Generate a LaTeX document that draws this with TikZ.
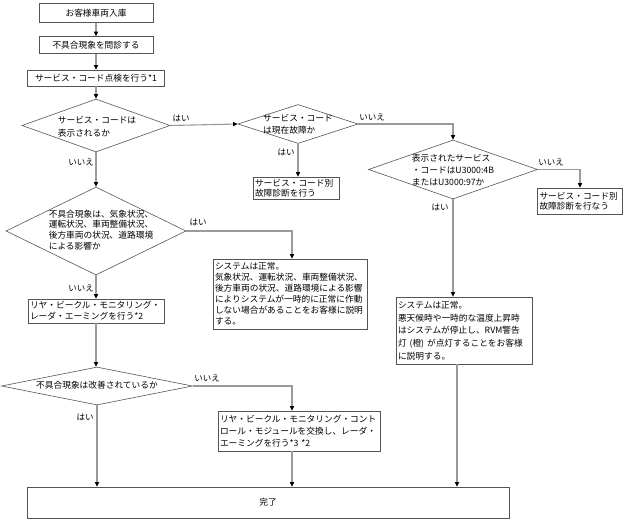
\documentclass[tikz,border=0pt]{standalone}
\usepackage{fontspec}
\setmainfont{Noto Sans CJK JP}
\usetikzlibrary{shapes.geometric,arrows.meta}
\definecolor{linegray}{HTML}{9A9A9A}
\definecolor{boxgray}{HTML}{555555}
\begin{document}
\begin{tikzpicture}[x=1pt,y=-1pt,
  box/.style={draw=boxgray,line width=0.6pt,inner xsep=2pt,inner ysep=0pt,align=left,fill=white},
  dia/.style={shape=diamond,draw=boxgray,line width=0.6pt,inner sep=0pt},
  txt/.style={font=\fontsize{8.7}{#1}\selectfont},
  dtext/.style={inner sep=0pt,align=left},
  lbl/.style={font=\fontsize{8.5}{10}\selectfont,inner sep=0pt},
  conn/.style={draw=linegray,line width=1.1pt,-{Triangle[width=4pt,length=4.5pt,color=black]}},
]
\useasboundingbox (0,0) rectangle (626,522);

% boxes
\node[box,txt=11,text width=110pt,minimum height=19pt,align=center] (b1) at (96,13) {お客様車両入庫};
\node[box,txt=11,text width=110pt,minimum height=17pt,align=center] (b2) at (96,45) {不具合現象を問診する};
\node[box,txt=11,text width=133pt,minimum height=16pt,align=center] (b3) at (96,78) {サービス・コード点検を行う*1};
\node[box,txt=10,text width=82pt,minimum height=22pt] (b4) at (296,188) {サービス・コード別\\故障診断を行う};
\node[box,txt=10,text width=81pt,minimum height=26pt] (b5) at (580,201) {サービス・コード別\\故障診断を行なう};
\node[box,txt=12.7,text width=132pt,minimum height=67pt] (b6) at (464,330.5) {システムは正常。\\悪天候時や一時的な温度上昇時\\はシステムが停止し、RVM警告\\灯 (橙) が点灯することをお客様\\に説明する。};
\node[box,txt=11,text width=150pt,minimum height=70pt] (b7) at (290,294) {システムは正常。\\気象状況、運転状況、車両整備状況、\\後方車両の状況、道路環境による影響\\によりシステムが一時的に正常に作動\\しない場合があることをお客様に説明\\する。};
\node[box,txt=11,text width=132pt,minimum height=24pt] (b8) at (96,311) {リヤ・ビークル・モニタリング・\\レーダ・エーミングを行う*2};
\node[box,txt=12,text width=158pt,minimum height=40pt] (b9) at (299,431) {リヤ・ビークル・モニタリング・コント\\ロール・モジュールを交換し、レーダ・\\エーミングを行う*3 *2};
\node[box,txt=11,text width=478pt,minimum height=31pt,align=center] (b10) at (268,502.5) {完了};

% diamonds
\node[dia,minimum width=148pt,minimum height=53pt] (d1) at (96,125.5) {};
\node[dtext,txt=13.3] (d1t) at (97,127) {サービス・コードは\\表示されるか};
\node[dia,minimum width=120pt,minimum height=39pt] (d2) at (298,124) {};
\node[dtext,txt=12] (d2t) at (298,124) {サービス・コード\\は現在故障か};
\node[dia,minimum width=169pt,minimum height=59pt] (d3) at (453,169.5) {};
\node[dtext,txt=12] (d3t) at (453,170) {表示されたサービス\\・コードはU3000:4B\\またはU3000:97か};
\node[dia,minimum width=180pt,minimum height=88pt] (d4) at (96,231) {};
\node[dtext,txt=10.7] (d4t) at (101,230) {不具合現象は、気象状況、\\運転状況、車両整備状況、\\後方車両の状況、道路環境\\による影響か};
\node[dia,minimum width=191pt,minimum height=38pt] (d5) at (97,386) {};
\node[dtext,txt=11] (d5t) at (97,385) {不具合現象は改善されているか};

% connectors
\draw[conn] (b1) -- (b2);
\draw[conn] (b2) -- (b3);
\draw[conn] (b3) -- (d1.north);
\draw[conn] (d1.east) -- (d2.west);
\draw[conn] (d2.south) -- (d2.south |- b4.north);
\draw[conn] (d2.east) -| (d3.north);
\draw[conn] (d3.east) -| (b5.north);
\draw[conn] (d3.south) -- (d3.south |- b6.north);
\draw[conn] ([xshift=-7pt]b6.south) -- ([xshift=-7pt]b6.south |- b10.north);
\draw[conn] (d1.south) -- (d4.north);
\draw[conn] (d4.east) -| ([xshift=2pt]b7.north);
\draw[conn] (d4.south) -- (b8.north);
\draw[conn] (b8.south) -- (b8.south |- d5.north);
\draw[conn] (d5.east) -| ([xshift=-7pt]b9.north);
\draw[conn] (d5.south) -- (d5.south |- b10.north);
\draw[conn] ([xshift=-7pt]b9.south) -- ([xshift=-7pt]b9.south |- b10.north);

% labels
\node[lbl] (l1) at (181,118) {はい};
\node[lbl] (l2) at (81,162) {いいえ};
\node[lbl] (l3) at (372,117) {いいえ};
\node[lbl] (l4) at (286,152) {はい};
\node[lbl] (l5) at (551,162) {いいえ};
\node[lbl] (l6) at (440,207) {はい};
\node[lbl] (l7) at (198,222) {はい};
\node[lbl] (l8) at (81,288) {いいえ};
\node[lbl] (l9) at (207,378) {いいえ};
\node[lbl] (l10) at (85,417) {はい};
\end{tikzpicture}
\end{document}
